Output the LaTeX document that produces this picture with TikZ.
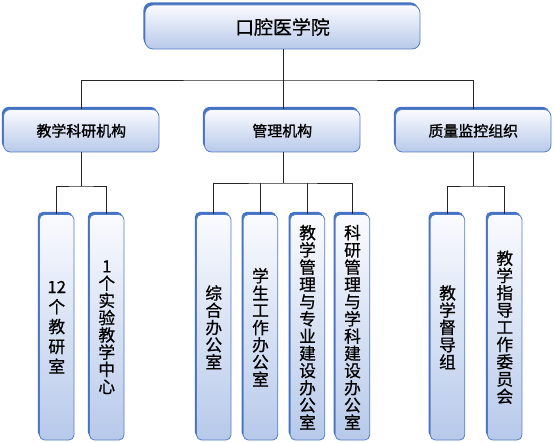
\documentclass[tikz,border=0pt]{standalone}
\usepackage{fontspec}
\setmainfont{Noto Sans CJK SC}
\newfontfamily\cjkmid[FakeBold=1.3]{Noto Sans CJK SC}
\newfontfamily\cjklight[FakeBold=0.7]{Noto Sans CJK SC}
\usetikzlibrary{shadows}
\definecolor{bordblue}{RGB}{84,125,200}
\definecolor{shblue}{RGB}{68,114,196}
\definecolor{botblue}{RGB}{183,201,234}
\definecolor{topwhite}{RGB}{250,251,254}
\tikzset{
  x=1bp, y=-1bp,
  box/.style={draw=bordblue, line width=0.8bp, top color=topwhite, bottom color=botblue,
    inner sep=0pt, align=center, text=black,
    drop shadow={shadow xshift=-1.6bp, shadow yshift=2.6bp, fill=shblue, opacity=1}},
  rootbox/.style={box, rounded corners=8bp, minimum width=275bp, minimum height=44bp,
    font=\cjklight\fontsize{19}{20}\selectfont},
  midbox/.style={box, rounded corners=7bp, minimum width=155.5bp, minimum height=42.5bp,
    font=\cjkmid\fontsize{15}{17}\selectfont},
  leafbox/.style={box, rounded corners=5bp, minimum width=34.5bp, minimum height=225.5bp,
    font=\cjklight\fontsize{16.8}{17.3}\selectfont},
  conn/.style={draw=black!85, line width=0.9bp}
}
\begin{document}
\begin{tikzpicture}
\useasboundingbox (0,0) rectangle (554,443);
% root
\node[rootbox] (root) at (282.5,27) {口腔医学院};
% level 2
\node[midbox] (g1) at (81.25,130.75) {教学科研机构};
\node[midbox] (g2) at (282.25,130.75) {管理机构};
\node[midbox] (g3) at (473.25,130.75) {质量监控组织};
% level 3
\node[leafbox, font=\cjklight\fontsize{16.8}{20}\selectfont] (a1) at (56.75,327.25) {12\\个\\教\\研\\室};
\node[leafbox] (a2) at (106.75,327.25) {1\\个\\实\\验\\教\\学\\中\\心};
\node[leafbox] (b1) at (213.75,327.25) {综\\合\\办\\公\\室};
\node[leafbox] (b2) at (260.5,327.25) {学\\生\\工\\作\\办\\公\\室};
\node[leafbox] (b3) at (307.5,327.25) {教\\学\\管\\理\\与\\专\\业\\建\\设\\办\\公\\室};
\node[leafbox] (b4) at (352.5,327.25) {科\\研\\管\\理\\与\\学\\科\\建\\设\\办\\公\\室};
\node[leafbox] (c1) at (447.5,327.25) {教\\学\\督\\导\\组};
\node[leafbox] (c2) at (504.75,327.25) {教\\学\\指\\导\\工\\作\\委\\员\\会};
% connectors
\coordinate (r0) at (283,80);
\draw[conn] (root.south -| r0) -- (r0);
\draw[conn] (g1.north -| 81,0) |- (r0) -| (g3.north -| 473,0);
\draw[conn] (r0) -- (g2.north -| r0);
\coordinate (s1) at (81,186);
\draw[conn] (g1.south -| s1) -- (s1);
\draw[conn] (a1.north) |- (s1) -| (a2.north);
\coordinate (s2) at (283,183);
\draw[conn] (g2.south -| s2) -- (s2);
\draw[conn] (b1.north) |- (s2) -| (b4.north);
\draw[conn] (b2.north) -- (b2.north |- s2);
\draw[conn] (b3.north) -- (b3.north |- s2);
\coordinate (s3) at (473,186);
\draw[conn] (g3.south -| s3) -- (s3);
\draw[conn] (c1.north) |- (s3) -| (c2.north);
\end{tikzpicture}
\end{document}
